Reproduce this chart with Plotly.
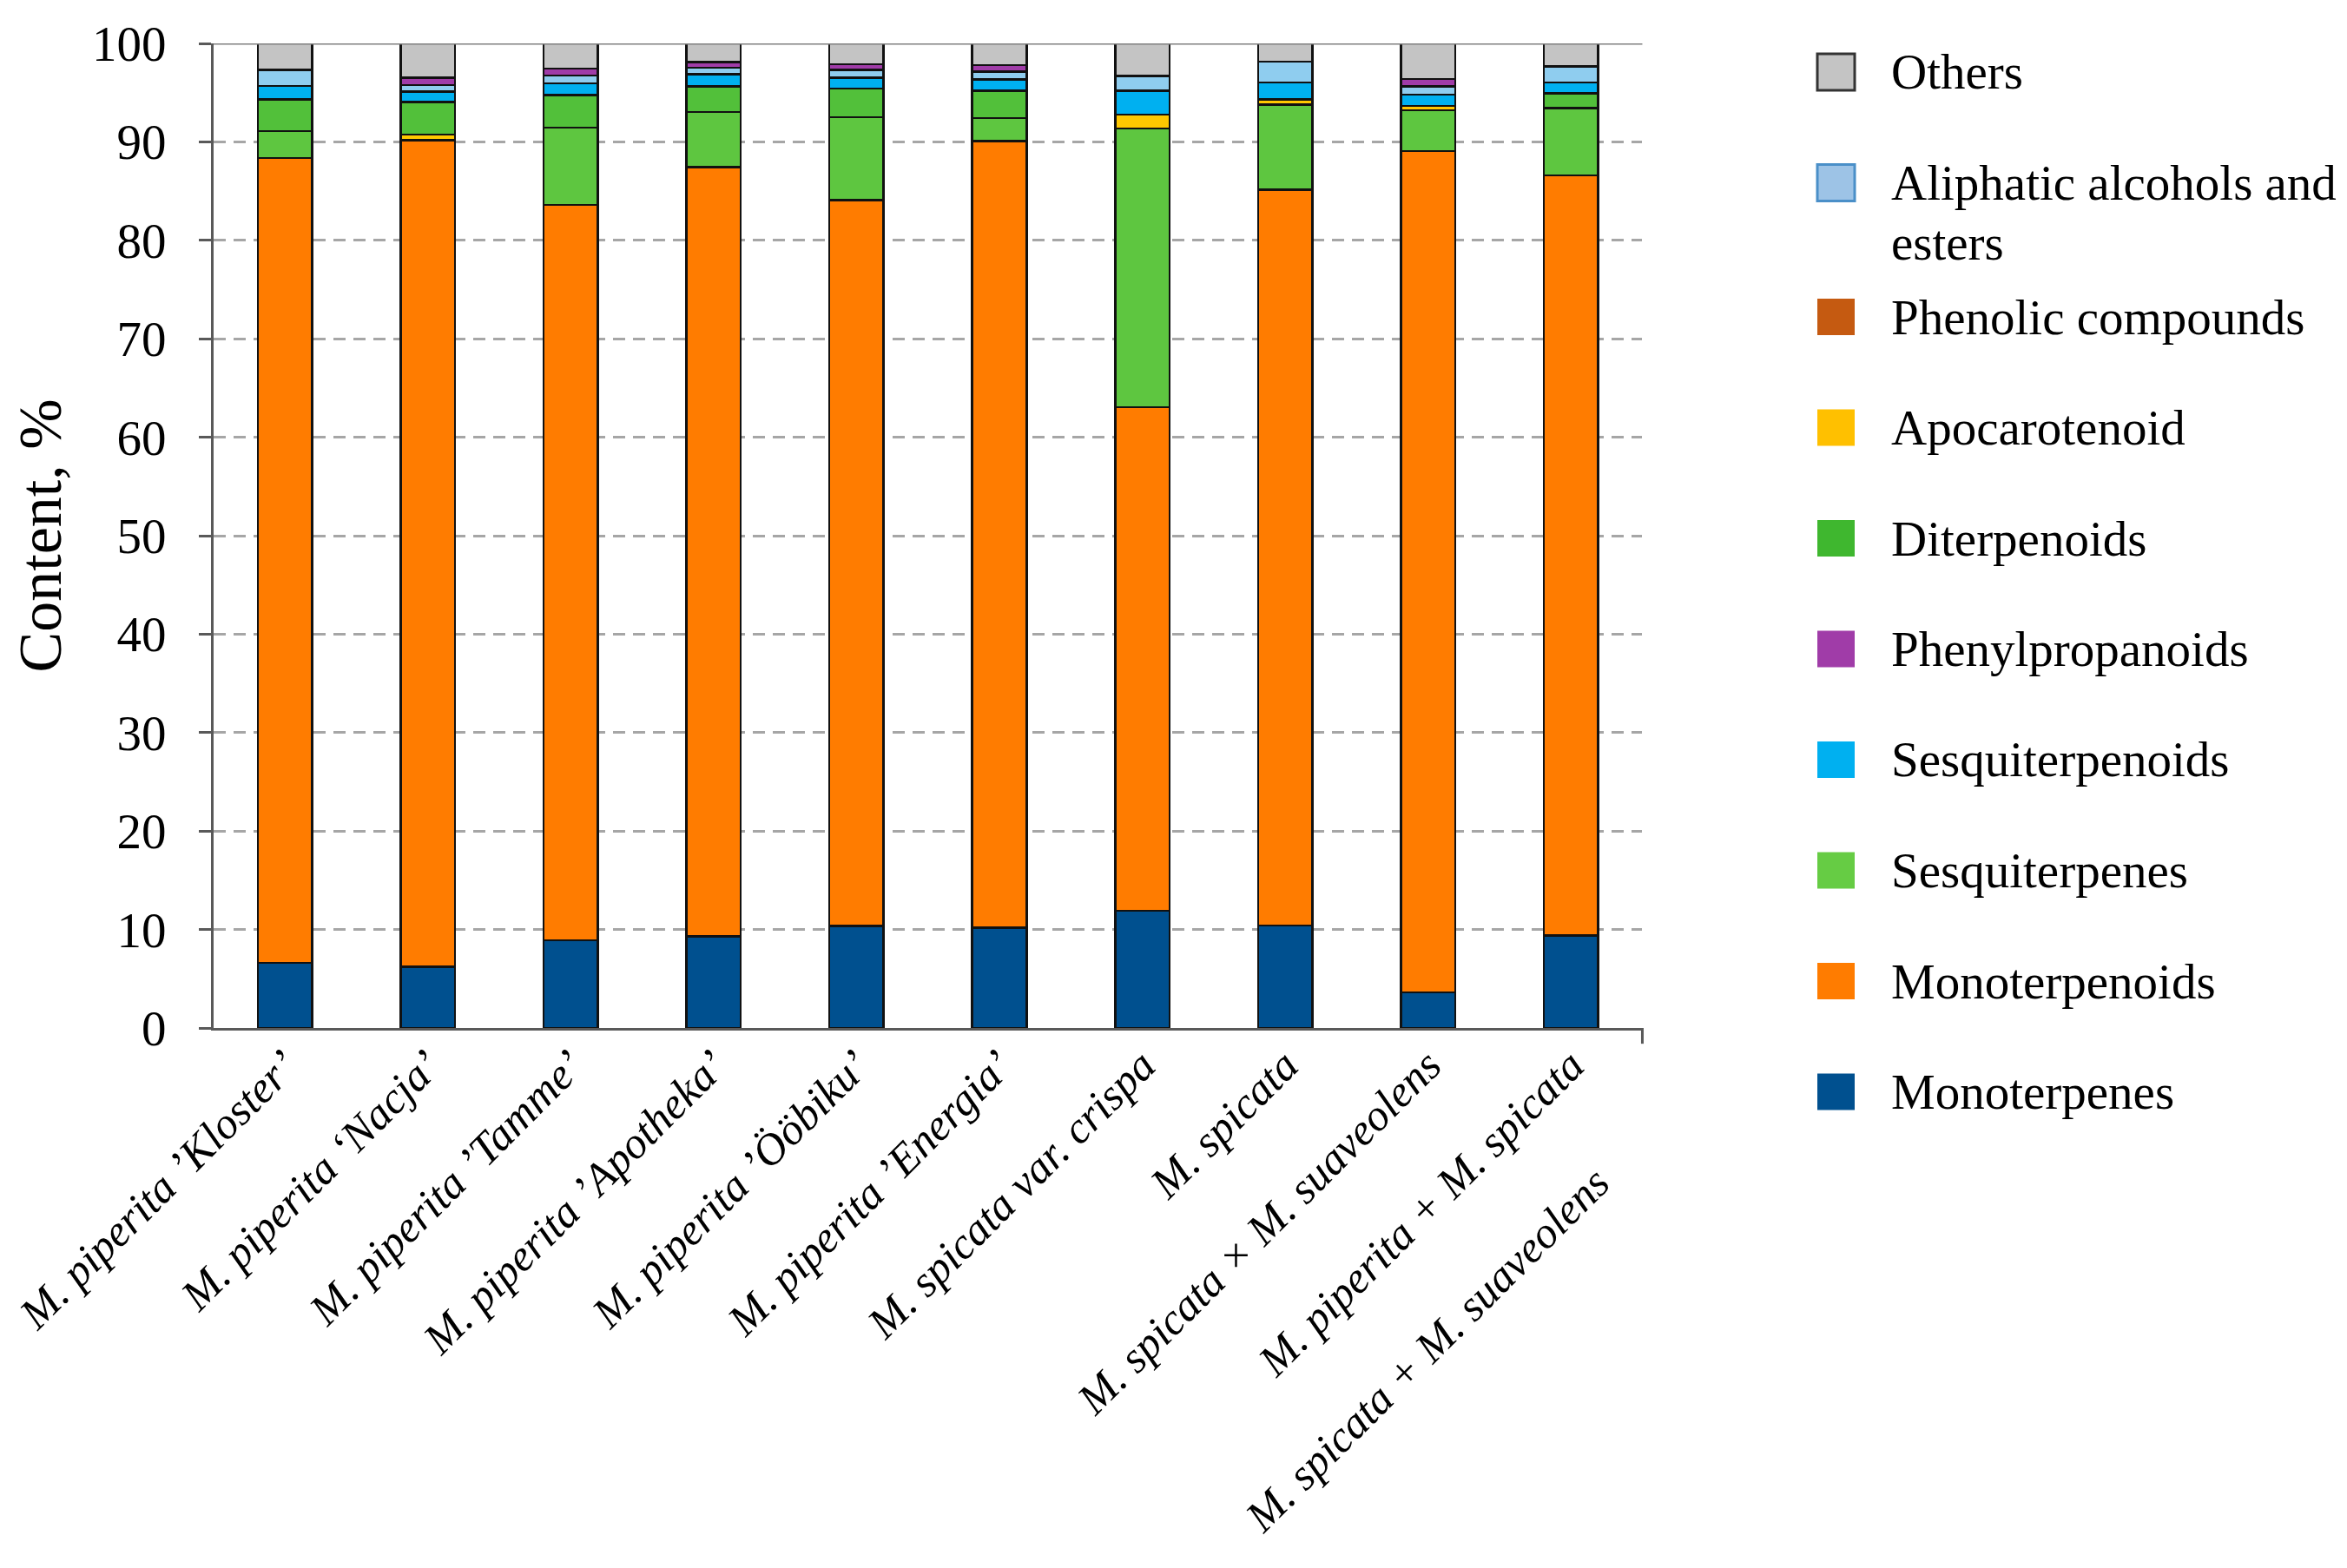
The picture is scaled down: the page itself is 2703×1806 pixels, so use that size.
import plotly.graph_objects as go

# ---- data (% of total) ---------------------------------------------------
categories = [
    "M. piperita \u2019Kloster\u2019",
    "M. piperita \u2018Nacja\u2019",
    "M. piperita \u2019Tamme\u2019",
    "M. piperita \u2019Apotheka\u2019",
    "M. piperita \u2019\u00d6\u00f6biku\u2019",
    "M. piperita \u2019Energia\u2019",
    "M. spicata var. crispa",
    "M. spicata",
    "M. spicata \u00d7 M. suaveolens",
    "M. piperita + M. spicata",
    "M. spicata + M. suaveolens",
]
n_bars = 10

monoterpenes = [6.6, 6.2, 8.9, 9.3, 10.35, 10.2, 11.9, 10.4, 3.6, 9.4]
monoterpenoids = [81.75, 83.95, 74.7, 78.15, 73.75, 79.9, 51.15, 74.75, 85.45, 77.2]
sesquiterpenes = [2.75, None, 7.85, 5.6, 8.4, 2.3, 28.3, 8.65, 4.15, 6.85]
apocarotenoid = [None, 0.6, None, None, None, None, 1.4, 0.5, 0.45, None]
diterpenoids = [3.2, 3.3, 3.3, 2.6, 2.9, 2.8, None, None, None, 1.5]
sesquiterpenoids = [1.4, 1.05, 1.2, 1.2, 1.1, 1.15, 2.45, 1.75, 1.15, 1.1]
aliphatic = [1.6, 0.65, 0.8, 0.7, 0.8, 0.8, 1.5, 2.1, 0.85, 1.6]
phenylpropanoids = [None, 0.75, 0.7, 0.55, 0.6, 0.65, None, None, 0.75, None]
phenolic = [None] * n_bars
others = [2.7, 3.5, 2.55, 1.9, 2.1, 2.2, 3.3, 1.85, 3.6, 2.35]

# stacking order, bottom -> top: (name, values, bar colour)
stack = [
    ("Monoterpenes", monoterpenes, "#00508f"),
    ("Monoterpenoids", monoterpenoids, "#ff7c00"),
    ("Sesquiterpenes", sesquiterpenes, "#5ec640"),
    ("Apocarotenoid", apocarotenoid, "#ffc800"),
    ("Diterpenoids", diterpenoids, "#52c03a"),
    ("Sesquiterpenoids", sesquiterpenoids, "#00b0f0"),
    ("Aliphatic alcohols and esters", aliphatic, "#8fcdef"),
    ("Phenylpropanoids", phenylpropanoids, "#a03ca8"),
    ("Phenolic compounds", phenolic, "#c55a11"),
    ("Others", others, "#c4c4c4"),
]

# legend as drawn in the reference (top -> bottom): lines of text, swatch, border
legend_order = [
    (["Others"], "#c4c4c4", "#333333"),
    (["Aliphatic alcohols and", "esters"], "#9dc3e6", "#4a8fc8"),
    (["Phenolic compounds"], "#c55a11", None),
    (["Apocarotenoid"], "#ffc000", None),
    (["Diterpenoids"], "#3fb72f", None),
    (["Phenylpropanoids"], "#a03ca8", None),
    (["Sesquiterpenoids"], "#00b0f0", None),
    (["Sesquiterpenes"], "#66cc44", None),
    (["Monoterpenoids"], "#ff7c00", None),
    (["Monoterpenes"], "#00508f", None),
]

FONT = "Liberation Serif, Times New Roman, serif"
OFF = 8  # page body margin
W, H = 2703 - 2 * OFF, 1806 - 2 * OFF
PLOT_L, PLOT_R, PLOT_T, PLOT_B = 246, 2056, 50, 1184  # target screen px
AXIS_COL = "#595959"


def px_x(px):
    return (px - PLOT_L) / (PLOT_R - PLOT_L)


def px_y(py):
    return (PLOT_B - py) / (PLOT_B - PLOT_T)


bar_x = categories[:n_bars]
fig = go.Figure()
for name, vals, col in stack:
    fig.add_trace(go.Bar(
        x=bar_x, y=vals, name=name,
        marker=dict(color=col, line=dict(color="#111111", width=2.5)),
        showlegend=False,
    ))

# helper trace so the label axis (one category wider) is drawn
fig.add_trace(go.Scatter(x=[], y=[], xaxis="x2", yaxis="y2",
                         showlegend=False, hoverinfo="skip"))

# top frame line and right-end tick
fig.add_shape(type="line", xref="x domain", x0=0, x1=1, yref="y", y0=100, y1=100,
              line=dict(color="#808080", width=3))
fig.add_shape(type="line", xref="x domain", x0=1, x1=1, yref="y domain", y0=0, y1=-0.016,
              line=dict(color=AXIS_COL, width=3))

# hand-built legend with large swatches
legend_top = 83
step = 127.5
line_h = 69
for i, (lines, col, border) in enumerate(legend_order):
    cy = legend_top + i * step + (27 if i >= 2 else 0)
    fig.add_shape(type="rect", xref="paper", yref="paper",
                  x0=px_x(2093), x1=px_x(2136), y0=px_y(cy + 21), y1=px_y(cy - 21),
                  fillcolor=col,
                  line=dict(color=border or col, width=3 if border else 0))
    for j, text in enumerate(lines):
        fig.add_annotation(x=px_x(2176), y=px_y(cy + j * line_h), xref="paper", yref="paper",
                           text=text, showarrow=False, xanchor="left", yanchor="middle",
                           align="left", font=dict(family=FONT, size=57, color="black"))

# the last label sits further down its own line in the reference
tick_text = [f"<i>{c}</i>" for c in categories]
tick_text[-1] = tick_text[-1] + "\u00a0" * 15

fig.update_layout(
    barmode="stack",
    bargap=0.62,
    width=W, height=H,
    margin=dict(l=PLOT_L - OFF, r=W - (PLOT_R - OFF), t=PLOT_T - OFF, b=H - (PLOT_B - OFF),
                autoexpand=False),
    paper_bgcolor="white",
    plot_bgcolor="rgba(0,0,0,0)",
    font=dict(family=FONT, color="black"),
    showlegend=False,
    xaxis=dict(
        domain=[0, n_bars / len(categories)], automargin=False,
        type="category", categoryorder="array", categoryarray=bar_x,
        range=[-0.5, n_bars - 0.5],
        showticklabels=False, ticks="", showgrid=False, zeroline=False,
        showline=True, linecolor=AXIS_COL, linewidth=3,
    ),
    yaxis=dict(
        range=[0, 100], dtick=10, automargin=False,
        showgrid=True, gridcolor="#a6a6a6", gridwidth=3, griddash="14px,9px",
        zeroline=False,
        showline=True, linecolor=AXIS_COL, linewidth=3,
        ticks="outside", ticklen=14, tickwidth=3, tickcolor=AXIS_COL,
        ticklabelstandoff=26,
        tickfont=dict(family=FONT, size=57, color="black"),
        title=dict(text="Content, %", standoff=22,
                   font=dict(family=FONT, size=70, color="black")),
    ),
    xaxis2=dict(
        domain=[0, 1], anchor="y2", automargin=False,
        range=[-0.5, len(categories) - 0.5],
        tickmode="array", tickvals=list(range(len(categories))),
        ticktext=tick_text,
        tickangle=-45, ticks="", showgrid=False, zeroline=False, showline=False,
        ticklabelstandoff=2, ticklabeloverflow="allow",
        tickfont=dict(family=FONT, size=51, color="black"),
    ),
    yaxis2=dict(domain=[0, 1], anchor="x2", range=[0, 100], visible=False,
                showgrid=False, automargin=False),
)

fig.write_html("out.html")
